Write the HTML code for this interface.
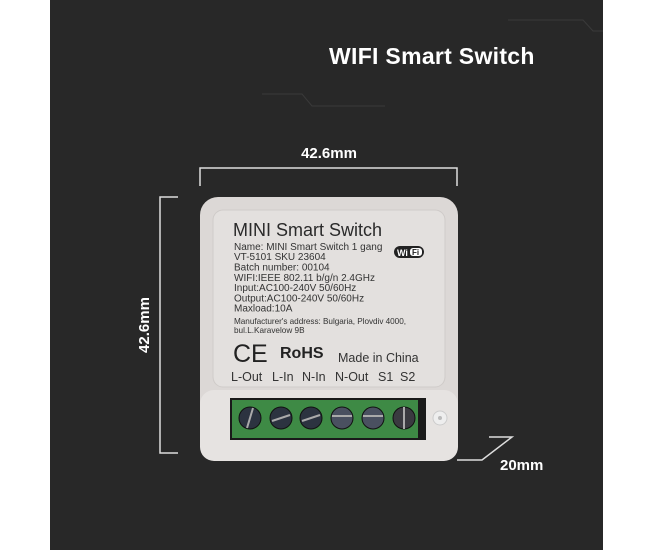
<!DOCTYPE html>
<html><head><meta charset="utf-8"><style>
html,body{margin:0;padding:0;background:#fff;}
svg{display:block;}
text{font-family:"Liberation Sans",sans-serif;}
</style></head><body>
<svg width="650" height="550" viewBox="0 0 650 550" xmlns="http://www.w3.org/2000/svg">
<rect x="0" y="0" width="650" height="550" fill="#fff"/>
<rect x="50" y="0" width="553" height="550" fill="#282828"/>
<polyline points="508,20 583,20 593,31 603,31" fill="none" stroke="#3a3a3a" stroke-width="1"/>
<polyline points="262,94 302,94 312,106 385,106" fill="none" stroke="#3a3a3a" stroke-width="1"/>
<text x="329" y="64" fill="#fff" font-size="23" font-weight="bold" letter-spacing="0.3">WIFI Smart Switch</text>
<polyline points="200,186 200,168 457,168 457,186" fill="none" stroke="#ddd" stroke-width="1.5"/>
<text x="329" y="158" fill="#fff" font-size="15" font-weight="bold" text-anchor="middle">42.6mm</text>
<polyline points="178,197 160,197 160,453 178,453" fill="none" stroke="#ddd" stroke-width="1.5"/>
<text transform="translate(149,325) rotate(-90)" fill="#fff" font-size="15" font-weight="bold" text-anchor="middle">42.6mm</text>
<polyline points="457,460 482,460 512,437 489,437" fill="none" stroke="#ddd" stroke-width="1.5"/>
<text x="500" y="470" fill="#fff" font-size="15" font-weight="bold">20mm</text>
<rect x="200" y="197" width="258" height="264" rx="18" fill="#dcd8d6"/>
<rect x="200" y="390" width="258" height="71" rx="14" fill="#e6e3e1"/>
<rect x="213" y="210" width="232" height="177" rx="10" fill="#e3e0de" stroke="#cfcbc9" stroke-width="1"/>
<text x="233" y="236" fill="#2a2a2a" font-size="18">MINI Smart Switch</text>
<g fill="#333" font-size="10">
<text x="234" y="250">Name: MINI Smart Switch 1 gang</text>
<text x="234" y="260">VT-5101  SKU 23604</text>
<text x="234" y="270.5">Batch number: 00104</text>
<text x="234" y="281">WIFI:IEEE 802.11 b/g/n 2.4GHz</text>
<text x="234" y="291">Input:AC100-240V 50/60Hz</text>
<text x="234" y="301.5">Output:AC100-240V 50/60Hz</text>
<text x="234" y="311.5">Maxload:10A</text>
<text x="234" y="324" font-size="8.2" textLength="172">Manufacturer's address:  Bulgaria, Plovdiv 4000,</text>
<text x="234" y="333" font-size="8.2">bul.L.Karavelow 9B</text>
</g>
<rect x="394" y="246" width="30" height="12" rx="6" fill="#222"/>
<text x="397" y="256" fill="#fff" font-size="9" font-weight="bold">Wi</text>
<rect x="410" y="248" width="12" height="8" rx="3" fill="#fff"/>
<text x="412" y="255" fill="#222" font-size="8" font-weight="bold">Fi</text>
<text x="233" y="362" fill="#222" font-size="25">CE</text>
<text x="280" y="358" fill="#222" font-size="16" font-weight="bold">RoHS</text>
<text x="338" y="362" fill="#333" font-size="12.5">Made in China</text>
<g fill="#333" font-size="12.5">
<text x="231" y="381">L-Out</text>
<text x="272" y="381">L-In</text>
<text x="302" y="381">N-In</text>
<text x="335" y="381">N-Out</text>
<text x="378" y="381">S1</text>
<text x="400" y="381">S2</text>
</g>
<rect x="230" y="398" width="196" height="42" fill="#1a1a1a"/>
<rect x="232" y="400" width="186" height="38" fill="#3e8a45"/>
<g fill="#2c3340" stroke="#111" stroke-width="1">
<circle cx="250" cy="418" r="11"/><circle cx="281" cy="418" r="11"/><circle cx="311" cy="418" r="11"/>
<circle cx="342" cy="418" r="11" fill="#4a5060"/><circle cx="373" cy="418" r="11" fill="#4a5060"/><circle cx="404" cy="418" r="11" fill="#3a3a40"/>
</g>
<g stroke="#aaa" stroke-width="2">
<line x1="247" y1="428" x2="253" y2="408"/><line x1="272" y1="421" x2="290" y2="415"/><line x1="302" y1="421" x2="320" y2="415"/>
<line x1="332" y1="416" x2="352" y2="416"/><line x1="363" y1="416" x2="383" y2="416"/><line x1="404" y1="407" x2="404" y2="429"/>
</g>
<circle cx="440" cy="418" r="7" fill="#eee" stroke="#ccc"/>
<circle cx="440" cy="418" r="2" fill="#bbb"/>
</svg>
</body></html>
